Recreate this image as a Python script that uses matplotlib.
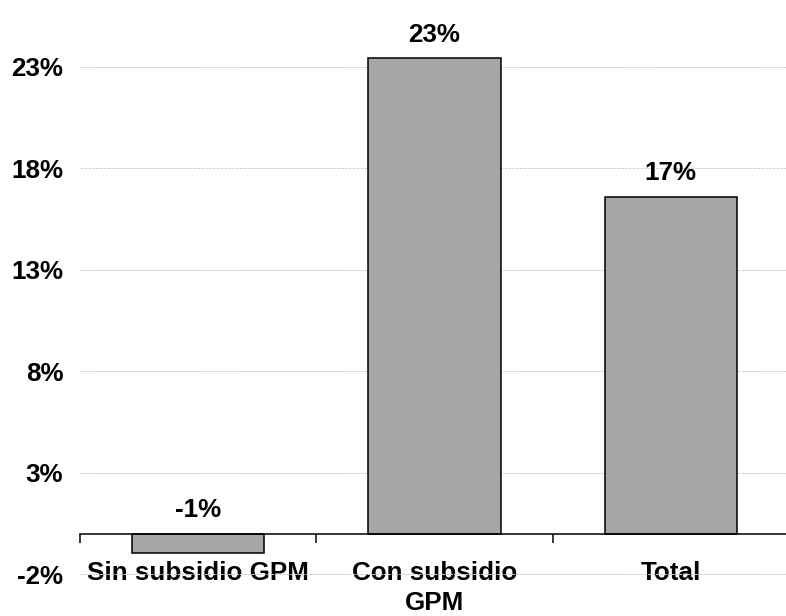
import matplotlib.pyplot as plt
from matplotlib.ticker import FixedLocator

plt.rcParams['font.family'] = ['Liberation Sans', 'DejaVu Sans']

# datos
categorias = ['Sin subsidio GPM', 'Con subsidio\nGPM', 'Total']
valores = [-0.95, 23.4, 16.6]
etiquetas = ['-1%', '23%', '17%']
yticks = [-2, 3, 8, 13, 18, 23]

fig = plt.figure(figsize=(7.86, 6.16), dpi=100)
W, H = 786, 616
ax = fig.add_axes([80 / W, (H - 580) / H, 709 / W, (580 - 25) / H])

x = range(len(categorias))
ax.bar(x, valores, width=0.56, color='#a6a6a6', edgecolor='black',
       linewidth=1.1, zorder=3)

# etiquetas de valor
for xi, v, lab in zip(x, valores, etiquetas):
    ax.annotate(lab, (xi, max(v, 0)), xytext=(0, 8), textcoords='offset points',
                ha='center', va='bottom', fontsize=18.7, fontweight='bold')

ax.set_xlim(-0.5, 2.5)
ax.set_ylim(-2.29, 25.05)

# eje x en cero
for s in ['left', 'right', 'top']:
    ax.spines[s].set_visible(False)
ax.spines['bottom'].set_position(('data', 0))
ax.spines['bottom'].set_linewidth(1.1)
ax.spines['bottom'].set_zorder(4)

ax.xaxis.set_major_locator(FixedLocator([-0.5, 0.5, 1.5, 2.5]))
ax.xaxis.set_minor_locator(FixedLocator(list(x)))
ax.set_xticklabels([], minor=False)
ax.set_xticklabels(categorias, minor=True, fontsize=18.7, fontweight='bold',
                   linespacing=1.3)
ax.tick_params(axis='x', which='major', direction='out', length=6.5, width=1.1)
ax.tick_params(axis='x', which='minor', length=0, pad=20)

ax.set_yticks(yticks)
ax.set_yticklabels([f'{t}%' for t in yticks], fontsize=18.7, fontweight='bold')
ax.tick_params(axis='y', length=0, pad=12)
ax.yaxis.grid(True, color='#d0d0d0', linestyle=(0, (3, 1)), linewidth=0.7, zorder=0)
ax.set_axisbelow(True)

fig.savefig('out.png', dpi=100)
